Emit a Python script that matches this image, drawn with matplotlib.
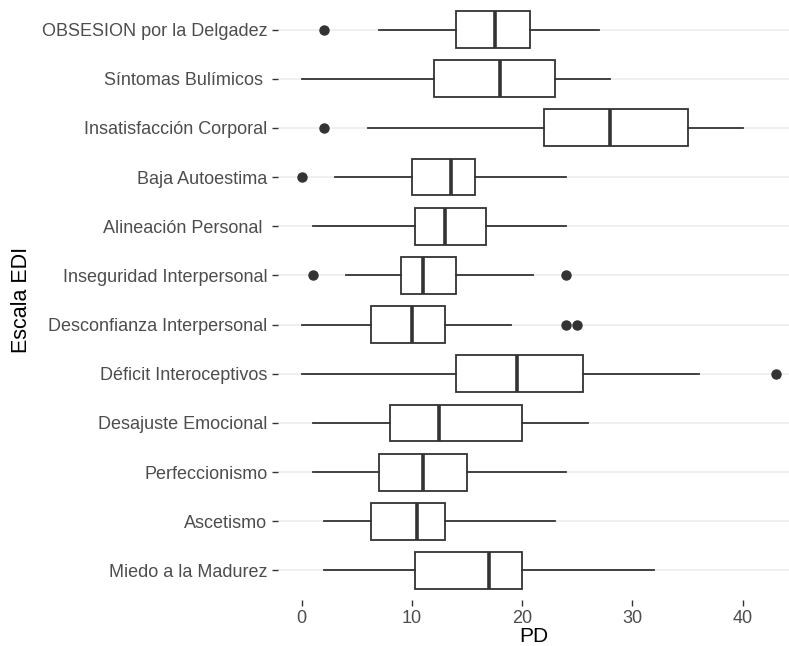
import matplotlib.pyplot as plt

# EDI scales, top to bottom as drawn
labels = ["OBSESION por la Delgadez", "Síntomas Bulímicos ", "Insatisfacción Corporal",
          "Baja Autoestima", "Alineación Personal ", "Inseguridad Interpersonal",
          "Desconfianza Interpersonal", "Déficit Interoceptivos", "Desajuste Emocional",
          "Perfeccionismo", "Ascetismo", "Miedo a la Madurez"]
whislo = [7, 0, 6, 3, 1, 4, 0, 0, 1, 1, 2, 2]
q1 = [14, 12, 22, 10, 10.25, 9, 6.25, 14, 8, 7, 6.25, 10.25]
med = [17.5, 18, 28, 13.5, 13, 11, 10, 19.5, 12.5, 11, 10.5, 17]
q3 = [20.75, 23, 35, 15.75, 16.75, 14, 13, 25.5, 20, 15, 13, 20]
whishi = [27, 28, 40, 24, 24, 21, 19, 36, 26, 24, 23, 32]
fliers = [[2], [], [2], [0], [], [1, 24], [24, 25], [43], [], [], [], []]

plt.rcParams['font.family'] = ['Liberation Sans', 'DejaVu Sans']

fig = plt.figure(figsize=(7.89, 6.46), dpi=100)
ax = fig.add_axes([0.3523, 0.0712, 0.6477, 0.9288])

n = len(labels)
pos = list(range(n, 0, -1))
stats = []
for i in range(n):
    stats.append(dict(label=labels[i], whislo=whislo[i], q1=q1[i], med=med[i],
                      q3=q3[i], whishi=whishi[i], fliers=fliers[i]))

for p in pos:
    ax.axhline(p, color="#EBEBEB", lw=1.1, zorder=0)

ax.bxp(stats, positions=pos, vert=False, widths=0.75, showcaps=False,
       patch_artist=True,
       boxprops=dict(facecolor="white", edgecolor="#333333", lw=1.3),
       whiskerprops=dict(color="#333333", lw=1.3),
       medianprops=dict(color="#333333", lw=2.6),
       flierprops=dict(marker="o", markerfacecolor="#333333", markeredgecolor="#333333",
                       markersize=6.5))

ax.set_xlim(-2.15, 44.2)
ax.set_ylim(0.4, n + 0.6)
ax.set_xticks([0, 10, 20, 30, 40])
ax.set_yticks(pos)
ax.set_yticklabels(labels)
for s in ax.spines.values():
    s.set_visible(False)
ax.tick_params(axis="both", colors="#333333", labelcolor="#4D4D4D",
               labelsize=13, length=4, width=1)
ax.set_xlabel("PD", fontsize=15, color="black", labelpad=0)
ax.set_ylabel("Escala EDI", fontsize=15.5, color="black", labelpad=7)

fig.savefig("out.png", dpi=100)
